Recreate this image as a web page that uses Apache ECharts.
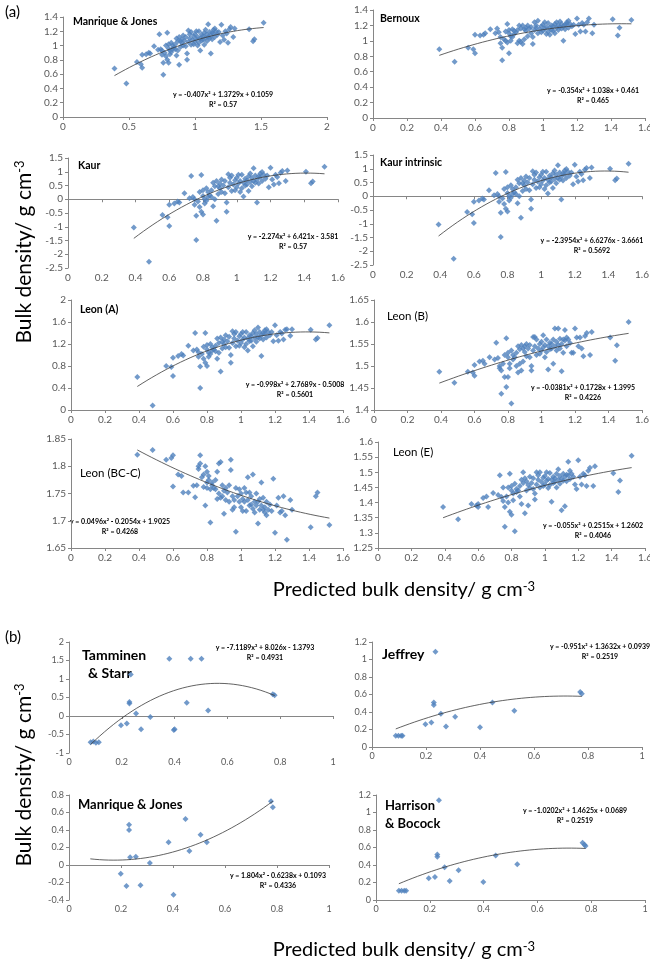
<!DOCTYPE html>
<html>
<head>
<meta charset="utf-8">
<script src="https://cdn.jsdelivr.net/npm/echarts@6/dist/echarts.min.js"></script>
<style>
  html, body { margin: 0; padding: 0; background: #fff; }
  #chart { width: 650px; height: 965px; }
</style>
</head>
<body>
<div id="chart"></div>
<script>
// ---- (a) predicted bulk density, shared by the eight panels ----
var predX = [0.39,0.48,0.56,0.59,0.60,0.60,0.63,0.65,0.66,0.69,
  0.72,0.73,0.74,0.75,0.75,0.76,0.76,0.77,0.78,0.78,
  0.79,0.79,0.80,0.80,0.80,0.81,0.81,0.82,0.82,0.83,
  0.83,0.84,0.85,0.85,0.86,0.86,0.87,0.87,0.88,0.88,
  0.89,0.89,0.90,0.90,0.91,0.91,0.92,0.93,0.93,0.94,
  0.94,0.95,0.95,0.96,0.96,0.97,0.97,0.98,0.99,0.99,
  1.00,1.00,1.01,1.01,1.02,1.02,1.03,1.03,1.04,1.04,
  1.05,1.05,1.06,1.06,1.07,1.07,1.08,1.08,1.09,1.09,
  1.10,1.10,1.11,1.11,1.12,1.12,1.13,1.13,1.14,1.14,
  1.15,1.15,1.16,1.17,1.18,1.19,1.20,1.21,1.22,1.23,
  1.24,1.25,1.26,1.27,1.29,1.30,1.41,1.44,1.45,1.52];

var mjY = [0.68,0.47,0.77,0.74,0.69,0.87,0.88,0.90,0.89,0.99,
  0.94,1.16,0.95,0.93,0.87,0.59,0.76,0.90,1.00,0.85,
  1.18,0.80,0.76,1.02,0.96,0.93,0.88,1.04,0.91,1.00,
  0.95,0.97,1.02,0.95,1.10,0.86,1.06,0.93,0.73,1.12,
  0.98,1.06,1.04,1.09,1.00,1.14,1.07,1.12,0.99,0.80,
  0.89,1.21,1.05,1.10,1.16,1.19,1.01,1.08,1.13,1.02,
  1.05,1.16,1.09,1.20,1.12,1.00,1.04,1.20,0.93,1.10,
  1.15,1.07,1.13,1.08,1.18,1.01,1.11,1.22,1.16,1.06,
  1.30,1.12,1.19,1.10,0.89,1.14,1.09,1.18,1.22,1.17,
  1.12,1.24,1.20,1.15,1.19,1.05,1.29,1.14,1.08,1.20,
  1.17,1.04,1.23,1.26,1.12,1.24,1.23,1.06,1.09,1.32];

var bernouxY = [0.89,0.73,0.91,0.89,0.84,1.08,1.07,1.08,1.10,1.15,
  1.10,1.16,1.11,1.05,0.97,0.75,0.91,1.02,1.12,1.00,
  1.22,0.98,0.84,1.14,1.10,1.06,1.00,1.15,1.05,1.13,
  1.09,1.11,1.14,0.97,1.20,1.00,1.16,0.99,0.96,1.20,
  1.02,1.15,1.13,1.17,1.06,1.20,1.16,1.18,1.10,0.96,
  1.05,1.24,1.14,1.17,1.20,1.26,1.10,1.15,1.19,1.11,
  1.13,1.21,1.16,1.24,1.18,1.09,1.12,1.23,1.08,1.17,
  1.20,1.14,1.19,1.13,1.22,1.10,1.17,1.24,1.20,1.14,
  1.25,1.18,1.22,1.16,1.00,1.19,1.15,1.21,1.24,1.22,
  1.17,1.26,1.22,1.19,1.21,1.09,1.29,1.21,1.12,1.23,
  1.21,1.12,1.24,1.29,1.10,1.21,1.28,1.07,1.17,1.27];

var kaurY = [-1.03,-2.27,-0.57,-0.65,-0.97,-0.20,-0.15,-0.08,-0.12,0.22,
  0.04,0.85,0.08,0.00,-0.20,-1.48,-0.60,-0.08,0.26,-0.28,
  0.88,-0.45,-0.55,0.33,0.12,0.00,-0.15,0.40,-0.05,0.26,
  0.08,0.15,0.33,0.08,0.60,-0.25,0.47,0.00,-0.78,0.66,
  0.19,0.47,0.40,0.57,0.26,0.72,0.50,0.66,0.22,-0.45,
  -0.12,0.91,0.44,0.60,0.78,0.86,0.30,0.54,0.69,0.33,
  0.44,0.78,0.57,0.89,0.66,0.26,0.40,0.89,0.10,0.60,
  0.75,0.50,0.69,0.54,0.84,0.30,0.63,0.94,0.78,0.47,
  1.13,0.66,0.86,0.60,-0.12,0.72,0.57,0.84,0.94,0.81,
  0.66,0.99,0.89,0.75,0.86,0.44,1.15,0.72,0.54,0.89,
  0.81,0.58,0.96,1.03,0.66,1.05,1.00,0.58,0.65,1.18];

// Kaur intrinsic reads the same as Kaur at this resolution
var kaurIntY = kaurY;

var leonAY = [0.60,0.08,0.80,0.78,0.62,0.95,0.98,1.02,0.99,1.17,
  1.08,1.40,1.10,1.05,0.97,0.40,0.79,1.02,1.15,0.93,
  1.40,0.86,0.80,1.18,1.10,1.04,0.97,1.20,1.02,1.14,
  1.08,1.10,1.17,1.07,1.30,0.93,1.22,1.04,0.70,1.32,
  1.12,1.24,1.20,1.28,1.14,1.36,1.25,1.33,1.13,0.86,
  1.00,1.43,1.22,1.30,1.38,1.42,1.16,1.26,1.34,1.17,
  1.22,1.38,1.28,1.42,1.32,1.14,1.20,1.42,1.08,1.30,
  1.36,1.25,1.34,1.26,1.40,1.16,1.31,1.45,1.38,1.24,
  1.50,1.32,1.42,1.30,0.98,1.36,1.28,1.40,1.45,1.39,
  1.32,1.47,1.42,1.36,1.42,1.25,1.54,1.36,1.26,1.42,
  1.39,1.28,1.46,1.47,1.35,1.47,1.46,1.28,1.31,1.54];

var leonBY = [1.487,1.462,1.487,1.485,1.478,1.502,1.510,1.512,1.505,1.520,
  1.515,1.553,1.518,1.500,1.495,1.437,1.490,1.505,1.525,1.475,
  1.563,1.452,1.475,1.530,1.520,1.505,1.495,1.535,1.415,1.525,
  1.515,1.520,1.530,1.500,1.545,1.485,1.538,1.505,1.490,1.548,
  1.510,1.540,1.532,1.545,1.522,1.550,1.540,1.548,1.520,1.490,
  1.500,1.566,1.535,1.545,1.566,1.560,1.525,1.540,1.550,1.528,
  1.535,1.555,1.542,1.570,1.548,1.520,1.532,1.560,1.492,1.545,
  1.553,1.538,1.550,1.540,1.560,1.505,1.545,1.585,1.555,1.535,
  1.585,1.548,1.562,1.540,1.488,1.550,1.530,1.560,1.582,1.558,
  1.545,1.565,1.560,1.552,1.530,1.530,1.585,1.565,1.545,1.565,
  1.540,1.522,1.568,1.575,1.525,1.577,1.565,1.512,1.547,1.600];

var leonBCY = [1.821,1.830,1.812,1.815,1.820,1.763,1.785,1.782,1.752,1.752,
  1.764,1.743,1.765,1.800,1.795,1.820,1.805,1.780,1.762,1.785,
  1.728,1.800,1.790,1.760,1.770,1.775,1.782,1.758,1.697,1.765,
  1.770,1.760,1.758,1.775,1.740,1.790,1.750,1.805,1.808,1.742,
  1.765,1.745,1.755,1.713,1.760,1.738,1.752,1.735,1.765,1.812,
  1.793,1.720,1.745,1.738,1.725,1.680,1.760,1.745,1.735,1.758,
  1.750,1.725,1.740,1.718,1.735,1.760,1.752,1.718,1.780,1.738,
  1.728,1.752,1.730,1.745,1.722,1.785,1.735,1.715,1.728,1.750,
  1.695,1.735,1.720,1.740,1.770,1.728,1.742,1.720,1.715,1.725,
  1.735,1.710,1.720,1.730,1.718,1.777,1.678,1.728,1.742,1.715,
  1.718,1.745,1.710,1.665,1.738,1.720,1.688,1.745,1.752,1.692];

var leonEY = [1.385,1.345,1.395,1.390,1.385,1.395,1.415,1.420,1.385,1.432,
  1.425,1.490,1.418,1.450,1.405,1.320,1.385,1.420,1.450,1.400,
  1.495,1.370,1.360,1.455,1.440,1.430,1.408,1.462,1.305,1.445,
  1.435,1.440,1.455,1.420,1.475,1.395,1.465,1.500,1.365,1.480,
  1.440,1.470,1.458,1.390,1.448,1.485,1.465,1.480,1.445,1.410,
  1.430,1.500,1.460,1.475,1.490,1.500,1.450,1.468,1.482,1.455,
  1.460,1.488,1.472,1.500,1.478,1.448,1.458,1.498,1.403,1.475,
  1.485,1.465,1.480,1.468,1.495,1.450,1.475,1.510,1.488,1.462,
  1.375,1.478,1.495,1.472,1.388,1.485,1.470,1.492,1.535,1.490,
  1.478,1.505,1.495,1.485,1.460,1.445,1.540,1.485,1.460,1.495,
  1.490,1.455,1.505,1.515,1.455,1.520,1.497,1.435,1.473,1.555];

// ---- (b) ----
var tamX = [0.082,0.092,0.102,0.113,0.197,0.219,0.229,0.229,0.234,0.254,0.273,0.308,0.380,0.397,0.400,0.446,0.461,0.502,0.527,0.772,0.779];
var tamY = [-0.71,-0.69,-0.72,-0.71,-0.25,-0.20,0.34,0.38,1.12,0.07,-0.36,-0.03,1.55,-0.38,-0.36,0.36,1.55,1.55,0.15,0.59,0.56];
var jefX = [0.088,0.098,0.108,0.113,0.198,0.220,0.229,0.229,0.235,0.255,0.274,0.308,0.400,0.446,0.527,0.771,0.777];
var jefY = [0.13,0.13,0.13,0.13,0.26,0.28,0.51,0.48,1.09,0.38,0.235,0.345,0.225,0.51,0.415,0.63,0.61];
var mjbX = [0.199,0.221,0.231,0.231,0.235,0.257,0.275,0.311,0.383,0.402,0.448,0.463,0.506,0.530,0.777,0.784];
var mjbY = [-0.10,-0.24,0.46,0.40,0.09,0.095,-0.23,0.023,0.26,-0.34,0.525,0.16,0.345,0.26,0.73,0.66];
var harX = [0.085,0.095,0.105,0.112,0.196,0.219,0.228,0.228,0.234,0.255,0.274,0.307,0.399,0.445,0.525,0.768,0.775,0.779];
var harY = [0.107,0.105,0.107,0.107,0.248,0.263,0.52,0.495,1.14,0.373,0.217,0.339,0.206,0.51,0.41,0.655,0.632,0.617];

// trendline coefficients as printed on the chart (a, b, c of ax^2+bx+c)
var fitMJ = [-0.407, 1.3729, 0.1059];
var fitBernoux = [-0.354, 1.038, 0.461];
var fitKaur = [-2.274, 6.421, -3.581];
var fitKaurInt = [-2.3954, 6.6276, -3.6661];
var fitLeonA = [-0.998, 2.7689, -0.5008];
var fitLeonB = [-0.0381, 0.1728, 1.3995];
var fitLeonBC = [0.0496, -0.2054, 1.9025];
var fitLeonE = [-0.055, 0.2515, 1.2602];
var fitTam = [-7.1189, 8.026, -1.3793];
var fitJef = [-0.951, 1.3632, 0.0939];
var fitMJb = [1.804, -0.6238, 0.1093];
var fitHar = [-1.0202, 1.4625, 0.0689];

var FONT = 'Lato';
var AXIS_GREY = '#868686';
var LABEL_GREY = '#595959';
var BLUE = '#4F81BD';

var panels = [
  {box:[63,17,264,100], xr:[0,2,0.5], yr:[0,1.4,0.2], xs:predX, ys:mjY, fit:fitMJ, span:[0.39,1.52],
   titles:[['Manrique & Jones',73,22]], tw:'bold', ts:10.5,
   eq:'y = -0.407x² + 1.3729x + 0.1059', r2:'R² = 0.57', ex:223, ey:95, fs:10},
  {box:[373,10,272,108], xr:[0,1.6,0.2], yr:[0,1.4,0.2], xs:predX, ys:bernouxY, fit:fitBernoux, span:[0.39,1.52],
   titles:[['Bernoux',380,19]], tw:'bold', ts:10.5,
   eq:'y = -0.354x² + 1.038x + 0.461', r2:'R² = 0.465', ex:593, ey:91, fs:10},
  {box:[68,158,270,110], xr:[0,1.6,0.2], yr:[-2.5,1.5,0.5], xs:predX, ys:kaurY, fit:fitKaur, span:[0.39,1.52],
   titles:[['Kaur',78,166]], tw:'bold', ts:10.5,
   eq:'y = -2.274x² + 6.421x - 3.581', r2:'R² = 0.57', ex:293, ey:237, fs:10},
  {box:[373,155,269,110], xr:[0,1.6,0.2], yr:[-2.5,1.5,0.5], xs:predX, ys:kaurIntY, fit:fitKaurInt, span:[0.39,1.52],
   titles:[['Kaur intrinsic',380,163]], tw:'bold', ts:10.5,
   eq:'y = -2.3954x² + 6.6276x - 3.6661', r2:'R² = 0.5692', ex:592, ey:241, fs:10},
  {box:[71,300,272,110], xr:[0,1.6,0.2], yr:[0,2,0.4], xs:predX, ys:leonAY, fit:fitLeonA, span:[0.39,1.52],
   titles:[['Leon (A)',80,310]], tw:'bold', ts:10.5,
   eq:'y = -0.998x² + 2.7689x - 0.5008', r2:'R² = 0.5601', ex:295, ey:385, fs:10},
  {box:[374,300,268,110], xr:[0,1.6,0.2], yr:[1.4,1.65,0.05], xs:predX, ys:leonBY, fit:fitLeonB, span:[0.39,1.52],
   titles:[['Leon (B)',387,316]], tw:'normal', ts:11.5,
   eq:'y = -0.0381x² + 0.1728x + 1.3995', r2:'R² = 0.4226', ex:583, ey:388, fs:10},
  {box:[71,439,272,109], xr:[0,1.6,0.2], yr:[1.65,1.85,0.05], xs:predX, ys:leonBCY, fit:fitLeonBC, span:[0.39,1.52],
   titles:[['Leon (BC-C)',80,473]], tw:'normal', ts:11.5,
   eq:'y = 0.0496x² - 0.2054x + 1.9025', r2:'R² = 0.4268', ex:120, ey:522, fs:10},
  {box:[378,442,267,106], xr:[0,1.6,0.2], yr:[1.25,1.6,0.05], xs:predX, ys:leonEY, fit:fitLeonE, span:[0.39,1.52],
   titles:[['Leon (E)',393,452]], tw:'normal', ts:11.5,
   eq:'y = -0.055x² + 0.2515x + 1.2602', r2:'R² = 0.4046', ex:593, ey:526, fs:10},
  {box:[69,642,264,111], xr:[0,1,0.2], yr:[-1,2,0.5], xs:tamX, ys:tamY, fit:fitTam, span:[0.082,0.779],
   titles:[['Tamminen',82,655],['& Starr',88,673]], tw:'bold', ts:14, zeroLabels:true,
   eq:'y = -7.1189x² + 8.026x - 1.3793', r2:'R² = 0.4931', ex:265, ey:648, fs:9},
  {box:[372,642,270,105], xr:[0,1,0.2], yr:[0,1.2,0.2], xs:jefX, ys:jefY, fit:fitJef, span:[0.088,0.777],
   titles:[['Jeffrey',382,654]], tw:'bold', ts:14,
   eq:'y = -0.951x² + 1.3632x + 0.0939', r2:'R² = 0.2519', ex:600, ey:647, fs:9},
  {box:[69,795,260,105], xr:[0,1,0.2], yr:[-0.4,0.8,0.2], xs:mjbX, ys:mjbY, fit:fitMJb, span:[0.082,0.784],
   titles:[['Manrique & Jones',78,805]], tw:'bold', ts:13,
   eq:'y = 1.804x² - 0.6238x + 0.1093', r2:'R² = 0.4336', ex:278, ey:876, fs:9},
  {box:[376,795,269,105], xr:[0,1,0.2], yr:[0,1.2,0.2], xs:harX, ys:harY, fit:fitHar, span:[0.085,0.779],
   titles:[['Harrison',385,806],['& Bocock',385,824]], tw:'bold', ts:13,
   eq:'y = -1.0202x² + 1.4625x + 0.0689', r2:'R² = 0.2519', ex:575, ey:811, fs:9}
];

var grids = [], xAxes = [], yAxes = [], series = [], graphics = [];

function txt(s, x, y, size, weight, align, extra) {
  var el = {type: 'text', x: x, y: y, silent: true,
    style: {text: s, fontFamily: FONT, fontSize: size, fontWeight: weight || 'normal', fill: '#000',
      align: align || 'left', textAlign: align || 'left', verticalAlign: 'middle', textVerticalAlign: 'middle'}};
  if (extra) { for (var k in extra) el[k] = extra[k]; }
  return el;
}

panels.forEach(function (p, i) {
  grids.push({left: p.box[0], top: p.box[1], width: p.box[2], height: p.box[3], outerBoundsMode: 'none'});
  var common = {type: 'value', gridIndex: i, position: 'bottom', min: p.xr[0], max: p.xr[1], interval: p.xr[2], splitLine: {show: false}};
  // label axis (labels at the bottom, or on the zero line for Tamminen)
  xAxes.push(Object.assign({}, common, {
    axisLine: {show: !!p.zeroLabels, onZero: !!p.zeroLabels, lineStyle: {color: AXIS_GREY}},
    axisTick: {show: !!p.zeroLabels, length: 3, lineStyle: {color: AXIS_GREY}},
    axisLabel: {fontFamily: FONT, fontSize: p.fs, color: LABEL_GREY, margin: 5}
  }));
  // line axis crossing at y = 0 when zero is in range
  xAxes.push(Object.assign({}, common, {
    show: !p.zeroLabels,
    axisLine: {show: true, onZero: true, lineStyle: {color: AXIS_GREY}},
    axisTick: {show: true, length: 3, lineStyle: {color: AXIS_GREY}},
    axisLabel: {show: false}
  }));
  yAxes.push({type: 'value', gridIndex: i, min: p.yr[0], max: p.yr[1], interval: p.yr[2],
    splitLine: {show: false},
    axisLine: {show: true, onZero: false, lineStyle: {color: AXIS_GREY}},
    axisTick: {show: true, length: 3, lineStyle: {color: AXIS_GREY}},
    axisLabel: {fontFamily: FONT, fontSize: p.fs, color: LABEL_GREY, margin: 5}
  });
  series.push({type: 'scatter', xAxisIndex: 2 * i, yAxisIndex: i,
    data: p.xs.map(function (x, k) { return [x, p.ys[k]]; }),
    symbol: 'diamond', symbolSize: 6, itemStyle: {color: BLUE}, z: 3});
  var curve = [];
  for (var k = 0; k <= 40; k++) {
    var x = p.span[0] + (p.span[1] - p.span[0]) * k / 40;
    curve.push([x, p.fit[0] * x * x + p.fit[1] * x + p.fit[2]]);
  }
  series.push({type: 'line', xAxisIndex: 2 * i, yAxisIndex: i, data: curve, showSymbol: false,
    lineStyle: {color: '#3a3a3a', width: 0.8}, silent: true, z: 4});

  p.titles.forEach(function (t) { graphics.push(txt(t[0], t[1], t[2], p.ts, p.tw)); });
  graphics.push(txt(p.eq, p.ex, p.ey, 7, 'bold', 'center'));
  graphics.push(txt(p.r2, p.ex, p.ey + 10, 7, 'bold', 'center'));
});

// panel tags and axis titles
graphics.push(txt('(a)', 5, 12, 15));
graphics.push(txt('(b)', 5, 637, 15));

function axisTitle(x, y, rot) {
  var el = {type: 'text', x: x, y: y, rotation: rot, silent: true,
    style: {text: 'Bulk density/ g cm{s|-3}', fontFamily: FONT, fontSize: 21, fill: '#000',
      align: 'center', textAlign: 'center', verticalAlign: 'middle', textVerticalAlign: 'middle',
      rich: {s: {fontFamily: FONT, fontSize: 13, fill: '#000', verticalAlign: 'top'}}}};
  return el;
}
var xt1 = axisTitle(404, 590, 0); xt1.style.text = 'Predicted bulk density/ g cm{s|-3}'; xt1.style.fontSize = 20;
var xt2 = axisTitle(404, 950, 0); xt2.style.text = 'Predicted bulk density/ g cm{s|-3}'; xt2.style.fontSize = 20;
graphics.push(axisTitle(24, 252, Math.PI / 2), axisTitle(24, 775, Math.PI / 2), xt1, xt2);

var chart = echarts.init(document.getElementById('chart'));
chart.setOption({
  animation: false,
  backgroundColor: '#fff',
  grid: grids,
  xAxis: xAxes,
  yAxis: yAxes,
  series: series,
  graphic: {elements: graphics}
});
</script>
</body>
</html>
